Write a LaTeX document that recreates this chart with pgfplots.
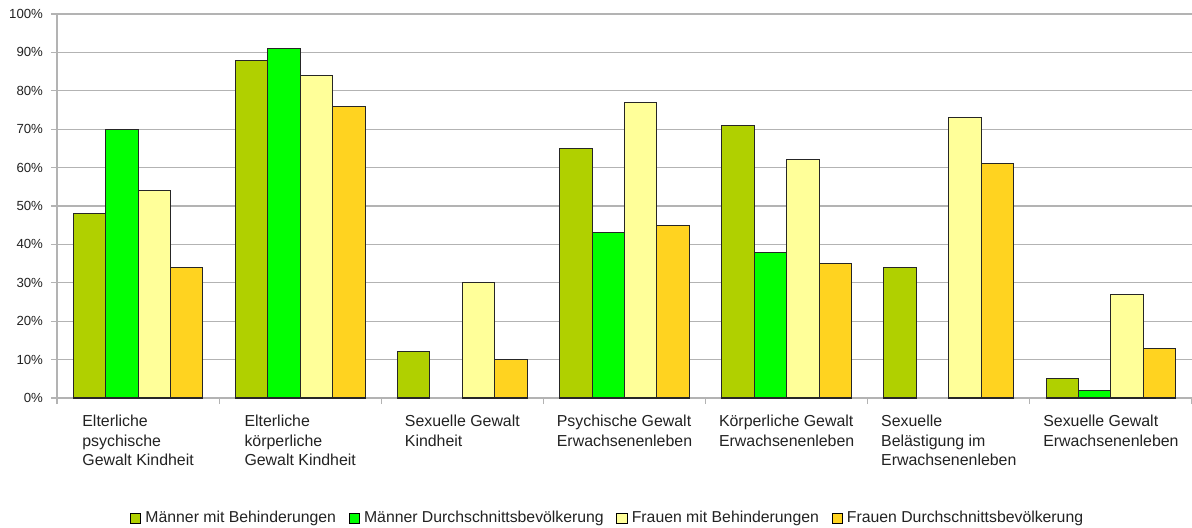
\documentclass[border=0pt]{standalone}
\usepackage{pgfplots}
\pgfplotsset{compat=1.18}
\usepackage{fontspec}
\setmainfont{Liberation Sans}
\definecolor{cA}{HTML}{B0D000}
\definecolor{cB}{HTML}{00FF00}
\definecolor{cC}{HTML}{FFFF99}
\definecolor{cD}{HTML}{FFD320}
\definecolor{gridgray}{HTML}{B3B3B3}
\definecolor{txt}{HTML}{222222}
\pgfplotsset{
  sqleg/.style={legend image code/.code={\draw[##1,draw=black,line width=0.5pt] (0pt,-2.6pt) rectangle (5.2pt,2.6pt);}},
}
\begin{document}
\begin{tikzpicture}
\begin{axis}[
  scale only axis, width=567.5pt, height=192pt,
  ybar=0pt, bar width=0.2,
  xmin=-0.5, xmax=6.5, ymin=0, ymax=100,
  axis x line*=bottom, axis y line*=left,
  axis line style={draw=gridgray, line width=0.6pt},
  tick style={draw=gridgray, line width=0.6pt},
  tick align=outside, major tick length=3pt,
  ytick={0,10,...,100},
  yticklabel={\pgfmathprintnumber{\tick}\%},
  /pgf/number format/assume math mode=true,
  yticklabel style={font=\fontsize{6.6}{7}\selectfont, text=txt, xshift=-0.5pt},
  ymajorgrids, grid style={draw=gridgray, line width=0.6pt},
  xtick={-0.5,0.5,...,6.5},
  x tick label as interval,
  xticklabels={{Elterliche\\psychische\\Gewalt Kindheit},
               {Elterliche\\körperliche\\Gewalt Kindheit},
               {Sexuelle Gewalt\\Kindheit},
               {Psychische Gewalt\\Erwachsenenleben},
               {Körperliche Gewalt\\Erwachsenenleben},
               {Sexuelle\\Belästigung im\\Erwachsenenleben},
               {Sexuelle Gewalt\\Erwachsenenleben}},
  xticklabel style={align=left, font=\fontsize{7.95}{9.8}\selectfont, text=txt, yshift=-2pt},
  legend columns=-1,
  legend style={at={(0.486,-0.313)}, anchor=center, draw=none, fill=none,
    font=\fontsize{7.9}{9}\selectfont, text=txt,
    /tikz/every even column/.append style={column sep=4.3pt},
    /tikz/every odd column/.append style={column sep=0pt}},
  every axis plot/.append style={draw=black!85, line width=0.55pt},
]
\addplot[fill=cA, sqleg] coordinates {(0,48) (1,88) (2,12) (3,65) (4,71) (5,34) (6,5)};
\addplot[fill=cB, sqleg] coordinates {(0,70) (1,91) (3,43) (4,38) (6,2)};
\addplot[fill=cC, sqleg] coordinates {(0,54) (1,84) (2,30) (3,77) (4,62) (5,73) (6,27)};
\addplot[fill=cD, sqleg] coordinates {(0,34) (1,76) (2,10) (3,45) (4,35) (5,61) (6,13)};
\legend{Männer mit Behinderungen, Männer Durchschnittsbevölkerung, Frauen mit Behinderungen, Frauen Durchschnittsbevölkerung}
\end{axis}
\pgfresetboundingbox
\path ([xshift=-28.5pt,yshift=-64.5pt]current axis.south west) rectangle ([yshift=7pt]current axis.north east);
\end{tikzpicture}
\end{document}
